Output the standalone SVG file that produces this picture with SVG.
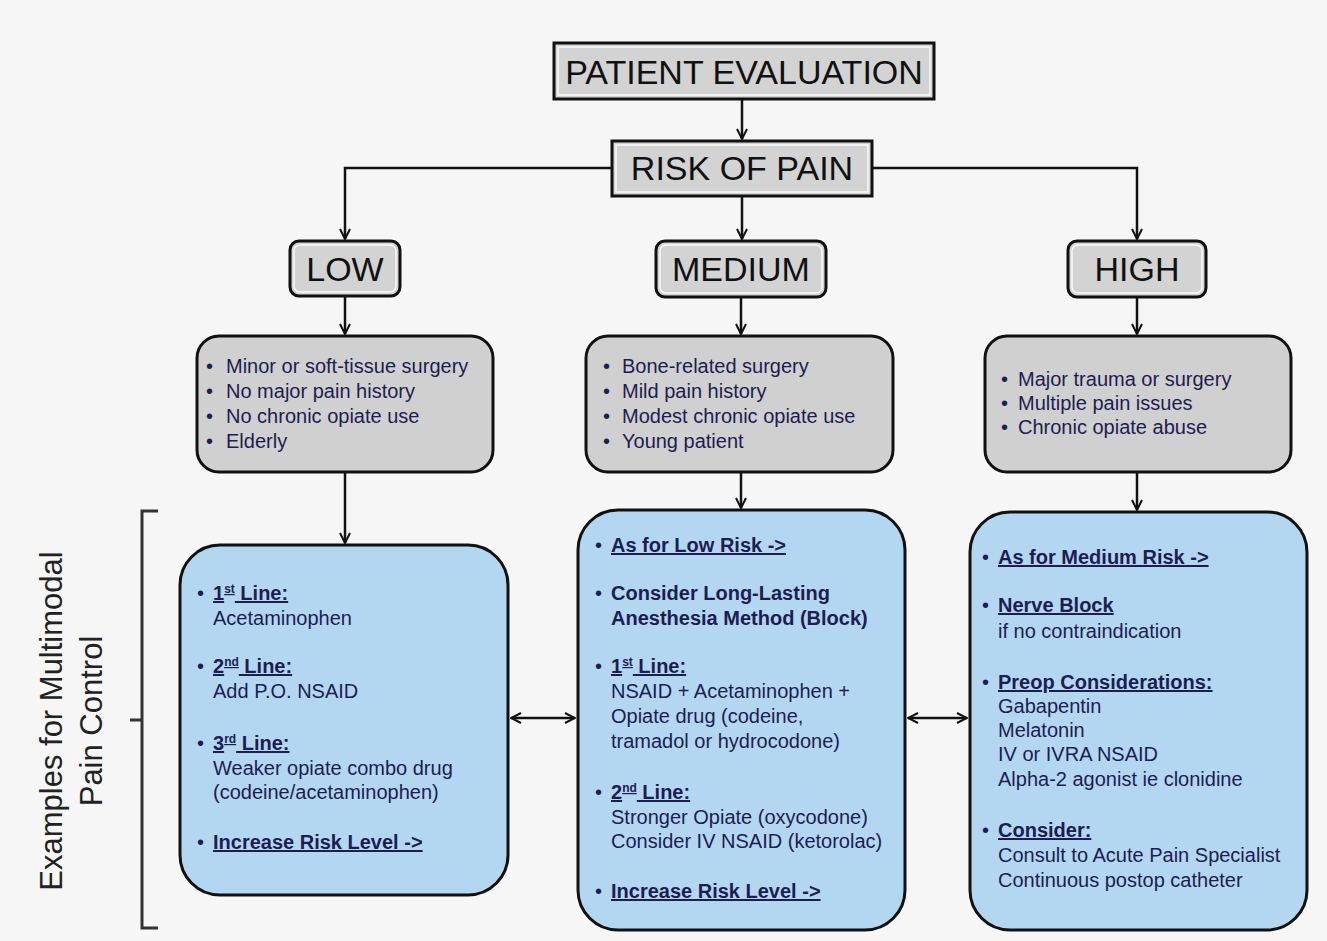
<svg xmlns="http://www.w3.org/2000/svg" width="1327" height="941" viewBox="0 0 1327 941">
<defs>
<marker id="ah" viewBox="0 0 12 12" refX="11" refY="6" markerWidth="12" markerHeight="12" markerUnits="userSpaceOnUse" orient="auto-start-reverse">
<path d="M1,1 L11,6 L1,11" fill="none" stroke="#111" stroke-width="2"/>
</marker>
<style>
.bg{fill:#f6f6f6}
.title{fill:#d3d3d3;stroke:#111;stroke-width:3}
.inner{fill:none;stroke:#fafafa;stroke-width:1.5}
.big{font-family:"Liberation Sans",Arial,sans-serif;font-size:34px;fill:#111;text-anchor:middle}
.grey{fill:#d0d0d0;stroke:#111;stroke-width:3}
.blue{fill:#b3d7f1;stroke:#111;stroke-width:3}
.t{font-family:"Liberation Sans",Arial,sans-serif;font-size:20px;fill:#1d1d52}
.b{font-weight:bold;text-decoration:underline}
.bb{font-weight:bold}
.sup{font-size:12px}
.side{font-family:"Liberation Sans",Arial,sans-serif;font-size:31px;fill:#222;text-anchor:middle}
.c{fill:none;stroke:#111;stroke-width:2.5}
</style>
</defs>
<rect class="bg" x="0" y="0" width="1327" height="941"/>

<g id="connectors">
<path class="c" d="M742,99 L742,139" marker-end="url(#ah)"/>
<path class="c" d="M742,196 L742,239" marker-end="url(#ah)"/>
<path class="c" d="M612,168 L345,168 L345,239" marker-end="url(#ah)"/>
<path class="c" d="M872,168 L1137,168 L1137,239" marker-end="url(#ah)"/>
<path class="c" d="M345,297 L345,334" marker-end="url(#ah)"/>
<path class="c" d="M741,297 L741,334" marker-end="url(#ah)"/>
<path class="c" d="M1137,297 L1137,334" marker-end="url(#ah)"/>
<path class="c" d="M345,472 L345,543" marker-end="url(#ah)"/>
<path class="c" d="M741,472 L741,508" marker-end="url(#ah)"/>
<path class="c" d="M1137,472 L1137,510" marker-end="url(#ah)"/>
<path class="c" d="M511,718 L575,718" marker-start="url(#ah)" marker-end="url(#ah)"/>
<path class="c" d="M908,718 L967,718" marker-start="url(#ah)" marker-end="url(#ah)"/>
</g>

<g id="patient-evaluation">
<rect class="title" x="554" y="43" width="380" height="56"/>
<rect class="inner" x="558" y="47" width="372" height="48"/>
<text class="big" x="744" y="84">PATIENT EVALUATION</text>
</g>

<g id="risk-of-pain">
<rect class="title" x="612" y="141" width="260" height="55"/>
<rect class="inner" x="616" y="145" width="252" height="47"/>
<text class="big" x="742" y="180">RISK OF PAIN</text>
</g>

<g id="low">
<rect class="title" x="290" y="241" width="110" height="55" rx="9"/>
<rect class="inner" x="294" y="245" width="102" height="47" rx="6"/>
<text class="big" x="345" y="281">LOW</text>
</g>

<g id="medium">
<rect class="title" x="656" y="241" width="170" height="56" rx="9"/>
<rect class="inner" x="660" y="245" width="162" height="48" rx="6"/>
<text class="big" x="741" y="281">MEDIUM</text>
</g>

<g id="high">
<rect class="title" x="1068" y="241" width="138" height="56" rx="9"/>
<rect class="inner" x="1072" y="245" width="130" height="48" rx="6"/>
<text class="big" x="1137" y="281">HIGH</text>
</g>

<g id="low-criteria">
<rect class="grey" x="197" y="336" width="296" height="136" rx="22"/>
<text class="t"><tspan x="206" y="373">•</tspan><tspan x="226" y="373">Minor or soft-tissue surgery</tspan></text>
<text class="t"><tspan x="206" y="398">•</tspan><tspan x="226" y="398">No major pain history</tspan></text>
<text class="t"><tspan x="206" y="423">•</tspan><tspan x="226" y="423">No chronic opiate use</tspan></text>
<text class="t"><tspan x="206" y="448">•</tspan><tspan x="226" y="448">Elderly</tspan></text>
</g>

<g id="medium-criteria">
<rect class="grey" x="586" y="336" width="307" height="136" rx="22"/>
<text class="t"><tspan x="603" y="373">•</tspan><tspan x="622" y="373">Bone-related surgery</tspan></text>
<text class="t"><tspan x="603" y="398">•</tspan><tspan x="622" y="398">Mild pain history</tspan></text>
<text class="t"><tspan x="603" y="423">•</tspan><tspan x="622" y="423">Modest chronic opiate use</tspan></text>
<text class="t"><tspan x="603" y="448">•</tspan><tspan x="622" y="448">Young patient</tspan></text>
</g>

<g id="high-criteria">
<rect class="grey" x="985" y="336" width="306" height="136" rx="22"/>
<text class="t"><tspan x="1001" y="386">•</tspan><tspan x="1018" y="386">Major trauma or surgery</tspan></text>
<text class="t"><tspan x="1001" y="410">•</tspan><tspan x="1018" y="410">Multiple pain issues</tspan></text>
<text class="t"><tspan x="1001" y="434">•</tspan><tspan x="1018" y="434">Chronic opiate abuse</tspan></text>
</g>

<g id="low-treatment">
<rect class="blue" x="180" y="545" width="328" height="350" rx="40"/>
<text class="t" x="197" y="600">•</text>
<text class="t b" x="213" y="600">1<tspan class="sup" dy="-7">st</tspan><tspan dy="7"> Line:</tspan></text>
<text class="t" x="213" y="625">Acetaminophen</text>
<text class="t" x="197" y="673">•</text>
<text class="t b" x="213" y="673">2<tspan class="sup" dy="-7">nd</tspan><tspan dy="7"> Line:</tspan></text>
<text class="t" x="213" y="698">Add P.O. NSAID</text>
<text class="t" x="197" y="750">•</text>
<text class="t b" x="213" y="750">3<tspan class="sup" dy="-7">rd</tspan><tspan dy="7"> Line:</tspan></text>
<text class="t" x="213" y="775">Weaker opiate combo drug</text>
<text class="t" x="213" y="799">(codeine/acetaminophen)</text>
<text class="t" x="197" y="849">•</text>
<text class="t b" x="213" y="849">Increase Risk Level -&gt;</text>
</g>

<g id="medium-treatment">
<rect class="blue" x="578" y="510" width="327" height="420" rx="40"/>
<text class="t" x="595" y="552">•</text>
<text class="t b" x="611" y="552">As for Low Risk -&gt;</text>
<text class="t" x="595" y="600">•</text>
<text class="t bb" x="611" y="600">Consider Long-Lasting</text>
<text class="t bb" x="611" y="625">Anesthesia Method (Block)</text>
<text class="t" x="595" y="673">•</text>
<text class="t b" x="611" y="673">1<tspan class="sup" dy="-7">st</tspan><tspan dy="7"> Line:</tspan></text>
<text class="t" x="611" y="698">NSAID + Acetaminophen +</text>
<text class="t" x="611" y="723">Opiate drug (codeine,</text>
<text class="t" x="611" y="748">tramadol or hydrocodone)</text>
<text class="t" x="595" y="799">•</text>
<text class="t b" x="611" y="799">2<tspan class="sup" dy="-7">nd</tspan><tspan dy="7"> Line:</tspan></text>
<text class="t" x="611" y="824">Stronger Opiate (oxycodone)</text>
<text class="t" x="611" y="848">Consider IV NSAID (ketorolac)</text>
<text class="t" x="595" y="898">•</text>
<text class="t b" x="611" y="898">Increase Risk Level -&gt;</text>
</g>

<g id="high-treatment">
<rect class="blue" x="970" y="512" width="337" height="418" rx="40"/>
<text class="t" x="982" y="564">•</text>
<text class="t b" x="998" y="564">As for Medium Risk -&gt;</text>
<text class="t" x="982" y="612">•</text>
<text class="t b" x="998" y="612">Nerve Block</text>
<text class="t" x="998" y="638">if no contraindication</text>
<text class="t" x="982" y="689">•</text>
<text class="t b" x="998" y="689">Preop Considerations:</text>
<text class="t" x="998" y="713">Gabapentin</text>
<text class="t" x="998" y="737">Melatonin</text>
<text class="t" x="998" y="761">IV or IVRA NSAID</text>
<text class="t" x="998" y="786">Alpha-2 agonist ie clonidine</text>
<text class="t" x="982" y="837">•</text>
<text class="t b" x="998" y="837">Consider:</text>
<text class="t" x="998" y="862">Consult to Acute Pain Specialist</text>
<text class="t" x="998" y="887">Continuous postop catheter</text>
</g>

<g id="examples-bracket">
<path d="M158,511 L142,511 L142,928 L158,928 M142,720 L130,720" fill="none" stroke="#333" stroke-width="3"/>
<text class="side" transform="translate(62,721) rotate(-90)">Examples for Multimodal</text>
<text class="side" transform="translate(102,721) rotate(-90)">Pain Control</text>
</g>
</svg>
